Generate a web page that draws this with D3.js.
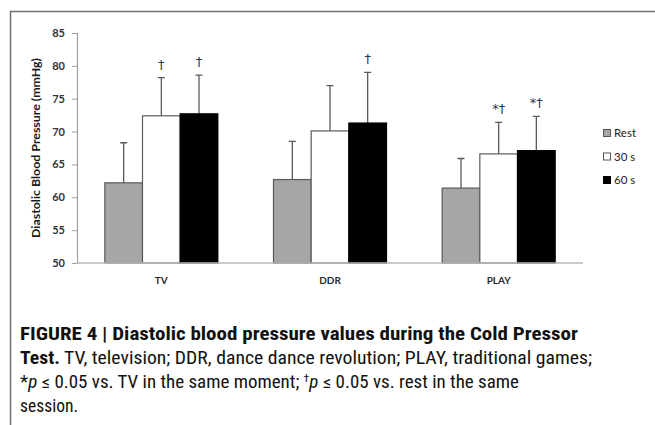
<!DOCTYPE html>
<html>
<head>
<meta charset="utf-8">
<script src="https://cdn.jsdelivr.net/npm/d3@7"></script>
<style>
  body { margin: 0; background: #fff; }
  svg { display: block; }
</style>
</head>
<body>
<div id="chart"></div>
<script>
const categories = ['TV', 'DDR', 'PLAY'];
const series = ['Rest', '30 s', '60 s'];
// mean diastolic pressure per category, one array per moment
const restMean = [62.2, 62.7, 61.4];
const s30Mean = [72.4, 70.1, 66.6];
const s60Mean = [72.7, 71.3, 67.1];
// upper error (SD)
const restSd = [6.1, 5.8, 4.5];
const s30Sd = [5.8, 6.9, 4.8];
const s60Sd = [5.9, 7.7, 5.2];
// significance marks above bars
const restMark = ['', '', ''];
const s30Mark = ['†', '', '*†'];
const s60Mark = ['†', '†', '*†'];
const yTicks = [50, 55, 60, 65, 70, 75, 80, 85];

const width = 655,
  height = 425;

const fills = ['#a6a6a6', '#ffffff', '#000000'];

const means = [restMean, s30Mean, s60Mean];
const sds = [restSd, s30Sd, s60Sd];
const marks = [restMark, s30Mark, s60Mark];

const data = categories.map((c, i) => ({
  cat: c,
  values: series.map((s, j) => ({ s, j, mean: means[j][i], sd: sds[j][i], mark: marks[j][i] }))
}));

const svg = d3.select('#chart').append('svg')
  .attr('width', width)
  .attr('height', height);

// open frame round the chart
svg.append('path')
  .attr('d', 'M10.5,' + height + 'V11.5H' + width)
  .attr('fill', 'none')
  .attr('stroke', '#6f6f6f')
  .attr('stroke-width', 1.5);

const x0 = d3.scaleBand()
  .domain(categories)
  .range([77, 583])
  .paddingInner(0.33)
  .paddingOuter(0.165);

const x1 = d3.scaleBand()
  .domain(series)
  .range([0, x0.bandwidth()]);

const y = d3.scaleLinear()
  .domain([50, 85])
  .range([263, 33]);

const chartFont = 'Lato, "Open Sans", sans-serif';

// y axis
const yAxis = svg.append('g')
  .attr('transform', 'translate(77,0)')
  .call(d3.axisLeft(y).tickValues(yTicks).tickSize(5).tickPadding(7));
yAxis.select('.domain').attr('stroke', '#a0a0a0').attr('stroke-width', 1.2);
yAxis.selectAll('.tick line').attr('stroke', '#a0a0a0');
yAxis.selectAll('.tick text')
  .attr('fill', '#2e3440')
  .style('font-family', chartFont)
  .style('font-size', '11px')
  .style('font-weight', 700);

svg.append('text')
  .attr('transform', 'translate(40,148) rotate(-90)')
  .attr('text-anchor', 'middle')
  .attr('textLength', 180)
  .attr('lengthAdjust', 'spacingAndGlyphs')
  .style('font-family', chartFont)
  .style('font-size', '10.5px')
  .style('font-weight', 700)
  .attr('fill', '#1a1a1a')
  .text('Diastolic Blood Pressure (mmHg)');

const groups = svg.append('g').selectAll('g')
  .data(data)
  .enter()
  .append('g')
  .attr('transform', d => `translate(${x0(d.cat)},0)`);

// error bars first so bars cover the lower half
groups.selectAll('.err')
  .data(d => d.values)
  .enter()
  .append('path')
  .attr('class', 'err')
  .attr('d', d => {
    const cx = x1(d.s) + x1.bandwidth() / 2;
    const top = y(d.mean + d.sd);
    return `M${cx},${y(d.mean)}V${top}M${cx - 3.5},${top}H${cx + 3.5}`;
  })
  .attr('fill', 'none')
  .attr('stroke', '#5a5a5a')
  .attr('stroke-width', 1.3);

groups.selectAll('rect')
  .data(d => d.values)
  .enter()
  .append('rect')
  .attr('x', d => x1(d.s))
  .attr('width', x1.bandwidth())
  .attr('y', d => y(d.mean))
  .attr('height', d => y(50) - y(d.mean))
  .attr('fill', d => fills[d.j])
  .attr('stroke', d => d.j === 2 ? '#000' : '#5a5a5a')
  .attr('stroke-width', 1.2);

groups.selectAll('.mark')
  .data(d => d.values.filter(v => v.mark))
  .enter()
  .append('text')
  .attr('class', 'mark')
  .attr('x', d => x1(d.s) + x1.bandwidth() / 2)
  .attr('y', d => y(d.mean + d.sd) - 9)
  .attr('text-anchor', 'middle')
  .style('font-family', '"DejaVu Sans", sans-serif')
  .style('font-size', '13px')
  .attr('fill', '#2b3550')
  .text(d => d.mark);

// x axis baseline
svg.append('line')
  .attr('x1', 77)
  .attr('x2', 583)
  .attr('y1', y(50))
  .attr('y2', y(50))
  .attr('stroke', '#b8b8b8')
  .attr('stroke-width', 1.5);

svg.append('g').selectAll('text')
  .data(categories)
  .enter()
  .append('text')
  .attr('x', d => x0(d) + x0.bandwidth() / 2)
  .attr('y', 284)
  .attr('text-anchor', 'middle')
  .style('font-family', chartFont)
  .style('font-size', '10px')
  .style('font-weight', 700)
  .attr('fill', '#2a2a2a')
  .text(d => d);

// legend
const legend = svg.append('g').selectAll('g')
  .data(series)
  .enter()
  .append('g')
  .attr('transform', (d, i) => `translate(603,${133 + i * 23.5})`);

legend.append('rect')
  .attr('x', 0.5)
  .attr('y', -3.5)
  .attr('width', 7)
  .attr('height', 7)
  .attr('fill', (d, i) => fills[i])
  .attr('stroke', (d, i) => i === 2 ? '#000' : '#555');

legend.append('text')
  .attr('x', 11)
  .attr('y', 4)
  .style('font-family', chartFont)
  .style('font-size', '11.5px')
  .attr('fill', '#222')
  .text(d => d);

// caption
const capFont = '"Liberation Sans Narrow", "Roboto Condensed", "Liberation Sans", sans-serif';
const caption = svg.append('g')
  .style('font-family', capFont)
  .style('font-size', '17.5px')
  .attr('fill', '#111');

caption.append('text')
  .attr('x', 20).attr('y', 340)
  .attr('textLength', 558).attr('lengthAdjust', 'spacingAndGlyphs')
  .style('font-weight', 700)
  .text('FIGURE 4 | Diastolic blood pressure values during the Cold Pressor');

const line2 = caption.append('text')
  .attr('x', 20).attr('y', 364)
  .attr('textLength', 572).attr('lengthAdjust', 'spacingAndGlyphs');
line2.append('tspan').style('font-weight', 700).text('Test.');
line2.append('tspan').text(' TV, television; DDR, dance dance revolution; PLAY, traditional games;');

const line3 = caption.append('text')
  .attr('x', 20).attr('y', 388)
  .attr('textLength', 499).attr('lengthAdjust', 'spacingAndGlyphs');
line3.append('tspan').text('*');
line3.append('tspan').style('font-style', 'italic').text('p');
line3.append('tspan').text(' ≤ 0.05 vs. TV in the same moment; ');
line3.append('tspan').attr('dy', -6).style('font-size', '11px').text('†');
line3.append('tspan').attr('dy', 6).style('font-style', 'italic').text('p');
line3.append('tspan').text(' ≤ 0.05 vs. rest in the same');

caption.append('text')
  .attr('x', 20).attr('y', 412)
  .text('session.');
</script>
</body>
</html>
